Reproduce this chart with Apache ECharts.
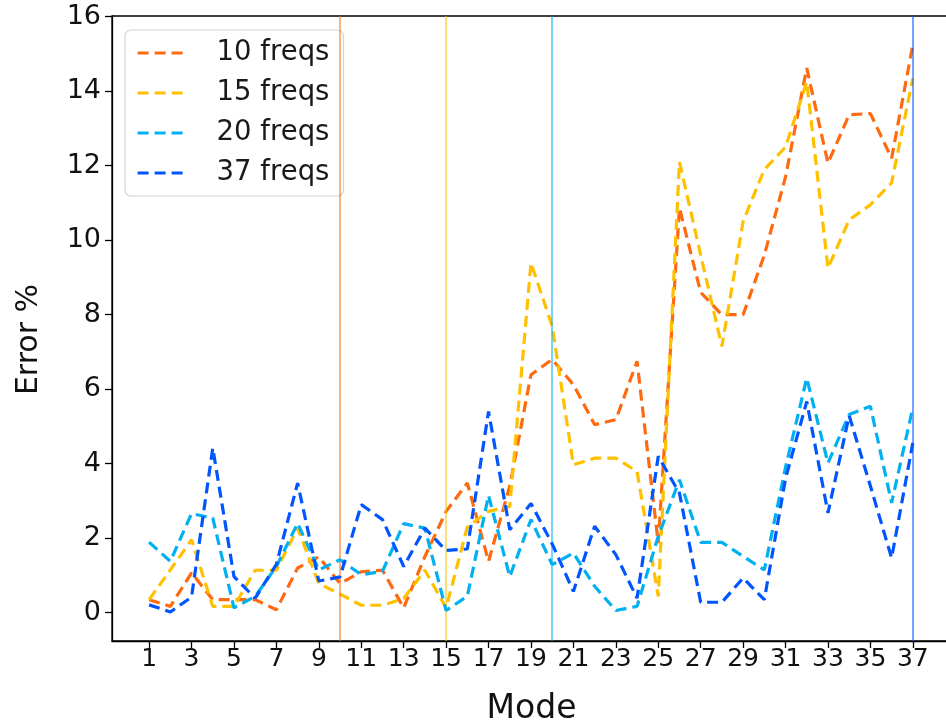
<!DOCTYPE html>
<html>
<head>
<meta charset="utf-8">
<script src="https://cdn.jsdelivr.net/npm/echarts@6/dist/echarts.min.js"></script>
<style>
  html, body { margin: 0; padding: 0; background: #fff; }
  #chart { width: 946px; height: 727px; }
</style>
</head>
<body>
<div id="chart"></div>
<script>
// Mode numbers on the x axis
const modes = [1, 2, 3, 4, 5, 6, 7, 8, 9, 10, 11, 12, 13, 14, 15, 16, 17, 18, 19,
  20, 21, 22, 23, 24, 25, 26, 27, 28, 29, 30, 31, 32, 33, 34, 35, 36, 37];

// Error % per mode for each number of frequencies used
const err10 = [0.35, 0.17, 1.07, 0.35, 0.35, 0.35, 0.08, 1.2, 1.5, 0.78, 1.1, 1.14, 0.13,
  1.51, 2.72, 3.48, 1.38, 3.4, 6.39, 6.8, 6.12, 5.05, 5.18, 6.75, 1.87, 10.87, 8.6,
  8.0, 8.0, 9.6, 11.7, 14.62, 12.07, 13.37, 13.4, 12.2, 15.25];
const err15 = [0.35, 1.15, 1.96, 0.17, 0.17, 1.14, 1.14, 2.27, 0.78, 0.5, 0.2, 0.2, 0.38,
  1.14, 0.13, 2.3, 2.72, 2.85, 9.39, 7.69, 3.97, 4.15, 4.15, 3.79, 0.44, 12.1, 9.6,
  7.15, 10.5, 11.9, 12.5, 14.25, 9.25, 10.55, 10.95, 11.54, 14.35];
const err20 = [1.89, 1.38, 2.66, 2.54, 0.13, 0.44, 1.24, 2.4, 1.15, 1.42, 1.02, 1.11, 2.39,
  2.27, 0.06, 0.44, 3.15, 0.97, 2.5, 1.29, 1.6, 0.71, 0.06, 0.17, 2.05, 3.57, 1.89,
  1.89, 1.51, 1.15, 3.9, 6.3, 4.02, 5.32, 5.54, 2.95, 5.5];
const err37 = [0.21, 0.02, 0.42, 4.42, 0.97, 0.39, 1.3, 3.48, 0.85, 0.96, 2.9, 2.5, 1.24,
  2.27, 1.67, 1.71, 5.4, 2.23, 2.93, 1.85, 0.57, 2.32, 1.56, 0.39, 4.2, 3.21, 0.28,
  0.28, 0.93, 0.35, 3.6, 5.67, 2.68, 5.29, 3.4, 1.47, 4.56];

// Legend names and the mode where each frequency count is marked
const seriesNames = ['10 freqs', '15 freqs', '20 freqs', '37 freqs'];
const markerModes = [10, 15, 20, 37];
const seriesData = [err10, err15, err20, err37];
const colors = ['#ff6a10', '#ffc000', '#00b0f0', '#0055ff'];

// Tick labels
const xTicks = [1, 3, 5, 7, 9, 11, 13, 15, 17, 19, 21, 23, 25, 27, 29, 31, 33, 35, 37];
const yTicks = [0, 2, 4, 6, 8, 10, 12, 14, 16];

const FONT = 'DejaVu Sans';
const DASH = [11, 6];

const series = seriesNames.map((name, i) => ({
  name: name,
  type: 'line',
  data: modes.map((m, j) => [m, seriesData[i][j]]),
  symbol: 'none',
  color: colors[i],
  lineStyle: { color: colors[i], width: 3.2, type: DASH },
  z: 3 + i,
  silent: true,
  animation: false,
  markLine: {
    silent: true,
    symbol: 'none',
    animation: false,
    label: { show: false },
    lineStyle: { color: colors[i], type: 'solid', width: 1.8, opacity: 0.6 },
    data: [{ xAxis: markerModes[i] }]
  }
}));

const chart = echarts.init(document.getElementById('chart'), null, { renderer: 'canvas' });
chart.setOption({
  animation: false,
  backgroundColor: '#ffffff',
  grid: {
    left: 112, top: 16, width: 839, height: 625,
    outerBoundsMode: 'none',
    containLabel: false,
    show: true, borderColor: '#000', borderWidth: 1.3, backgroundColor: 'transparent'
  },
  legend: {
    orient: 'vertical',
    left: 125, top: 30,
    padding: [9, 14, 9, 11],
    itemWidth: 50, itemHeight: 14, itemGap: 12,
    backgroundColor: 'rgba(255,255,255,0.85)',
    borderColor: '#d4d4d4', borderWidth: 1.2, borderRadius: 6,
    itemStyle: { opacity: 0, borderWidth: 0 },
    lineStyle: { width: 3.2, type: DASH },
    textStyle: { fontFamily: FONT, fontSize: 27.5, color: '#1a1a1a', lineHeight: 28, padding: [0, 0, 0, 24] },
    data: seriesNames
  },
  xAxis: {
    type: 'value',
    min: -0.75, max: 38.8,
    name: 'Mode',
    nameLocation: 'middle',
    nameGap: 52,
    nameTextStyle: { fontFamily: FONT, fontSize: 33, color: '#111' },
    axisLine: { show: true, onZero: false, lineStyle: { color: '#000', width: 1.3 } },
    axisTick: { show: true, length: 7, lineStyle: { color: '#000', width: 1.3 }, customValues: xTicks },
    axisLabel: { fontFamily: FONT, fontSize: 25, color: '#111', margin: 6, customValues: xTicks },
    splitLine: { show: false }
  },
  yAxis: {
    type: 'value',
    min: -0.76, max: 16.02,
    name: 'Error %',
    nameLocation: 'middle',
    nameGap: 68,
    nameRotate: 90,
    nameTextStyle: { fontFamily: FONT, fontSize: 30, color: '#111', padding: [0, 22, 0, 0] },
    axisLine: { show: true, onZero: false, lineStyle: { color: '#000', width: 1.3 } },
    axisTick: { show: true, length: 7, lineStyle: { color: '#000', width: 1.3 }, customValues: yTicks },
    axisLabel: { fontFamily: FONT, fontSize: 27, color: '#111', margin: 11, customValues: yTicks },
    splitLine: { show: false }
  },
  series: series
});
</script>
</body>
</html>
